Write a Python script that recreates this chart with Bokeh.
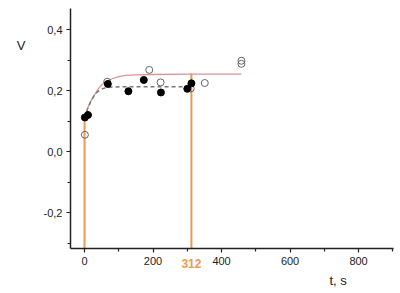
from bokeh.plotting import figure
from bokeh.models import Range1d, FixedTicker, CustomJSTickFormatter, LinearAxis, Title
from bokeh.embed import file_html
from bokeh.resources import INLINE

# filled points
t_filled = [1, 10, 68, 128, 173, 223, 300, 312]
v_filled = [0.113, 0.121, 0.223, 0.199, 0.236, 0.195, 0.207, 0.225]
# open points
t_open = [1, 66, 189, 222, 310, 351, 458, 458]
v_open = [0.056, 0.230, 0.269, 0.228, 0.208, 0.226, 0.299, 0.289]
# red fit curve
t_fit = [0, 10, 20, 30, 40, 50, 60, 70, 80, 100, 120, 150, 200, 300, 458]
v_fit = [0.111, 0.146, 0.170, 0.189, 0.207, 0.220, 0.228, 0.234, 0.240, 0.247, 0.251, 0.253, 0.254, 0.255, 0.255]
# dashed fit curve
t_dash = [0, 10, 20, 30, 40, 50, 60, 80, 120, 200, 312]
v_dash = [0.110, 0.145, 0.170, 0.188, 0.199, 0.206, 0.210, 0.213, 0.214, 0.214, 0.214]
# orange markers
t_mark = [0, 312]
v_mark = [0.112, 0.257]
x_ticks = [0, 200, 400, 600, 800]
x_minor = [100, 300, 500, 700, 900]
y_ticks = [-0.2, 0.0, 0.2, 0.4]
y_minor = [-0.3, -0.1, 0.1, 0.3]
y_name_at = [0.3486]   # height at which the "V" name sits
x_name = "t, s"
y_name = "V"

ymin, ymax = -0.317, 0.4705
p = figure(width=400, height=293, output_backend="svg", toolbar_location=None,
           x_range=Range1d(-41, 902), y_range=Range1d(ymin, ymax),
           min_border_left=70, min_border_right=7, min_border_top=8, min_border_bottom=45)
p.outline_line_color = None
p.grid.visible = False
p.background_fill_color = "white"
p.border_fill_color = "white"

for ax in (p.xaxis[0], p.yaxis[0]):
    ax.axis_line_color = "#222222"
    ax.axis_line_width = 1.5
    ax.major_tick_line_color = "#222222"
    ax.minor_tick_line_color = "#222222"
    ax.major_tick_line_width = 1.2
    ax.minor_tick_line_width = 1.2
    ax.major_tick_out = 4
    ax.major_tick_in = 0
    ax.minor_tick_out = 3
    ax.minor_tick_in = 0
    ax.major_label_text_font = "Liberation Sans"
    ax.major_label_text_font_size = "11px"
    ax.major_label_text_color = "#222222"
    ax.major_label_standoff = 4

p.xaxis[0].ticker = FixedTicker(ticks=x_ticks, minor_ticks=x_minor)
p.yaxis[0].ticker = FixedTicker(ticks=y_ticks, minor_ticks=y_minor)
p.yaxis[0].formatter = CustomJSTickFormatter(code="return tick.toFixed(1).replace('.', ',');")
p.xaxis[0].formatter = CustomJSTickFormatter(code="return tick.toFixed(0);")

orange = "#EB9A50"

# "312" label under the second orange line
ax312 = LinearAxis(ticker=FixedTicker(ticks=[t_mark[1]], minor_ticks=[]),
                   formatter=CustomJSTickFormatter(code="return tick.toFixed(0);"),
                   axis_line_color=None, major_tick_line_color=None, minor_tick_line_color=None,
                   major_tick_out=0, major_tick_in=0,
                   major_label_standoff=-9,
                   major_label_text_font="Liberation Sans", major_label_text_font_size="12px",
                   major_label_text_font_style="bold", major_label_text_color=orange)
p.add_layout(ax312, "below")

# "V" name on the left
axV = LinearAxis(ticker=FixedTicker(ticks=y_name_at, minor_ticks=[]),
                 formatter=CustomJSTickFormatter(code="return '%s';" % y_name),
                 axis_line_color=None, major_tick_line_color=None, minor_tick_line_color=None,
                 major_tick_out=0, major_tick_in=0, major_label_standoff=15,
                 major_label_text_font="Liberation Sans", major_label_text_font_size="13px",
                 major_label_text_color="#222222")
p.add_layout(axV, "left")

# "t, s" name below
p.add_layout(Title(text=x_name, align="left", offset=259, standoff=0,
                   text_font="Liberation Sans", text_font_size="13px",
                   text_font_style="normal", text_color="#222222"), "below")

p.segment(x0=t_mark, y0=[ymin] * len(t_mark), x1=t_mark, y1=v_mark,
          line_color=orange, line_width=2)
p.line(t_fit, v_fit, line_color="#DA9494", line_width=1.3)
p.line(t_dash, v_dash, line_color="#777777", line_width=1.5, line_dash="4 3")
p.scatter(t_open, v_open, size=7, fill_color="white", fill_alpha=0,
          line_color="#666666", line_width=1)
p.scatter(t_filled, v_filled, size=7, fill_color="black", line_color="black")

open("out.html", "w").write(file_html(p, INLINE))
